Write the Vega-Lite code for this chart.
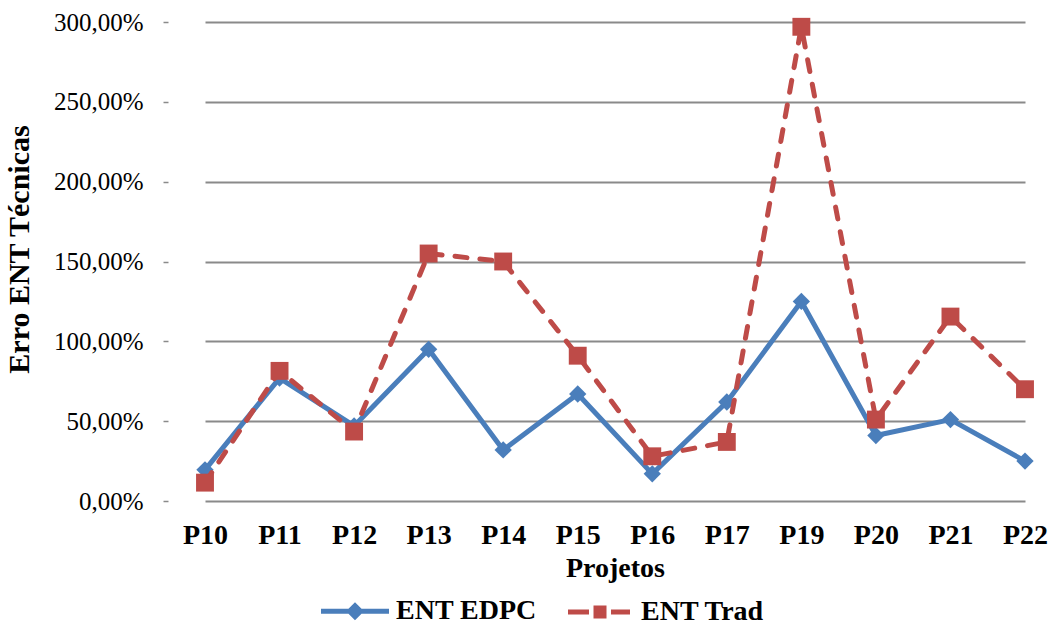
{
  "$schema": "https://vega.github.io/schema/vega-lite/v6.json",
  "width": 886,
  "height": 479,
  "autosize": {"type": "none"},
  "padding": {"left": 168, "top": 22, "right": 0, "bottom": 125},
  "background": "white",
  "data": {
    "values": [
      {"projeto": "P10", "serie": "ENT EDPC", "erro": 0.195},
      {"projeto": "P11", "serie": "ENT EDPC", "erro": 0.77},
      {"projeto": "P12", "serie": "ENT EDPC", "erro": 0.47},
      {"projeto": "P13", "serie": "ENT EDPC", "erro": 0.95},
      {"projeto": "P14", "serie": "ENT EDPC", "erro": 0.32},
      {"projeto": "P15", "serie": "ENT EDPC", "erro": 0.67},
      {"projeto": "P16", "serie": "ENT EDPC", "erro": 0.17},
      {"projeto": "P17", "serie": "ENT EDPC", "erro": 0.62},
      {"projeto": "P19", "serie": "ENT EDPC", "erro": 1.25},
      {"projeto": "P20", "serie": "ENT EDPC", "erro": 0.41},
      {"projeto": "P21", "serie": "ENT EDPC", "erro": 0.51},
      {"projeto": "P22", "serie": "ENT EDPC", "erro": 0.25},
      {"projeto": "P10", "serie": "ENT Trad", "erro": 0.115},
      {"projeto": "P11", "serie": "ENT Trad", "erro": 0.815},
      {"projeto": "P12", "serie": "ENT Trad", "erro": 0.435},
      {"projeto": "P13", "serie": "ENT Trad", "erro": 1.55},
      {"projeto": "P14", "serie": "ENT Trad", "erro": 1.50},
      {"projeto": "P15", "serie": "ENT Trad", "erro": 0.91},
      {"projeto": "P16", "serie": "ENT Trad", "erro": 0.28},
      {"projeto": "P17", "serie": "ENT Trad", "erro": 0.37},
      {"projeto": "P19", "serie": "ENT Trad", "erro": 2.97},
      {"projeto": "P20", "serie": "ENT Trad", "erro": 0.51},
      {"projeto": "P21", "serie": "ENT Trad", "erro": 1.155},
      {"projeto": "P22", "serie": "ENT Trad", "erro": 0.70}
    ]
  },
  "encoding": {
    "x": {
      "field": "projeto",
      "type": "nominal",
      "sort": null,
      "scale": {"type": "point", "range": [37, 857], "padding": 0},
      "axis": {
        "title": "Projetos",
        "domain": false,
        "ticks": false,
        "tickSize": 0,
        "grid": false,
        "labelAngle": 0,
        "labelFont": "Liberation Serif",
        "labelFontSize": 28,
        "labelFontWeight": "bold",
        "labelColor": "black",
        "labelPadding": 20,
        "titleFont": "Liberation Serif",
        "titleFontSize": 28,
        "titleFontWeight": "bold",
        "titleColor": "black",
        "titlePadding": 5
      }
    },
    "y": {
      "field": "erro",
      "type": "quantitative",
      "scale": {"domain": [0, 3], "nice": false, "zero": true},
      "axis": {
        "title": "Erro ENT Técnicas",
        "values": [0, 0.5, 1, 1.5, 2, 2.5, 3],
        "format": ".2%",
        "domain": false,
        "ticks": true,
        "tickSize": 5,
        "tickColor": "#8a8a8a",
        "tickWidth": 1.5,
        "grid": true,
        "gridColor": "#8a8a8a",
        "gridWidth": 1.8,
        "labelFont": "Liberation Serif",
        "labelFontSize": 25,
        "labelColor": "black",
        "labelPadding": 20,
        "titleFont": "Liberation Serif",
        "titleFontSize": 30,
        "titleFontWeight": "bold",
        "titleColor": "black",
        "titlePadding": 19,
        "titleY": 227
      }
    },
    "stroke": {
      "field": "serie",
      "type": "nominal",
      "scale": {"domain": ["ENT EDPC", "ENT Trad"], "range": ["#4A7EBB", "#BE4B48"]},
      "legend": {
        "title": null,
        "orient": "none",
        "legendX": 173,
        "legendY": 575,
        "direction": "horizontal",
        "padding": 0,
        "symbolSize": 400,
        "symbolType": "M-3.4,0L3.4,0M0,-0.55L0.55,0L0,0.55L-0.55,0Z",
        "symbolStrokeWidth": 5,
        "labelFont": "Liberation Serif",
        "labelFontSize": 28,
        "labelFontWeight": "bold",
        "labelColor": "black",
        "labelOffset": 27,
        "columnPadding": 21,
        "encode": {
          "symbols": {
            "update": {
              "shape": {"signal": "datum.value === 'ENT EDPC' ? 'M-3.4,0L3.4,0M0,-0.55L0.55,0L0,0.55L-0.55,0Z' : 'M-3.2,0L-1.1,0M-0.4,-0.4L0.4,-0.4L0.4,0.4L-0.4,0.4ZM1.1,0L3.0,0'"},
              "fill": {"signal": "datum.value === 'ENT EDPC' ? '#4A7EBB' : '#BE4B48'"},
              "strokeWidth": {"value": 5},
              "strokeDash": {"value": []},
              "opacity": {"value": 1},
              "fillOpacity": {"value": 1}
            }
          }
        }
      }
    }
  },
  "layer": [
    {
      "transform": [{"filter": "datum.serie === 'ENT EDPC'"}],
      "mark": {"type": "line", "strokeWidth": 5, "strokeCap": "round", "strokeJoin": "round"}
    },
    {
      "transform": [{"filter": "datum.serie === 'ENT EDPC'"}],
      "mark": {"type": "point", "filled": true, "shape": "diamond", "size": 300, "opacity": 1, "color": "#4A7EBB"},
      "encoding": {"stroke": {"value": null}}
    },
    {
      "transform": [{"filter": "datum.serie === 'ENT Trad'"}],
      "mark": {"type": "line", "strokeWidth": 5, "strokeCap": "round", "strokeJoin": "round", "strokeDash": [12, 13]}
    },
    {
      "transform": [{"filter": "datum.serie === 'ENT Trad'"}],
      "mark": {"type": "point", "filled": true, "shape": "square", "size": 320, "opacity": 1, "color": "#BE4B48"},
      "encoding": {"stroke": {"value": null}}
    }
  ],
  "config": {
    "view": {"stroke": null},
    "locale": {
      "number": {"decimal": ",", "thousands": ".", "grouping": [3], "currency": ["R$ ", ""]}
    }
  }
}
